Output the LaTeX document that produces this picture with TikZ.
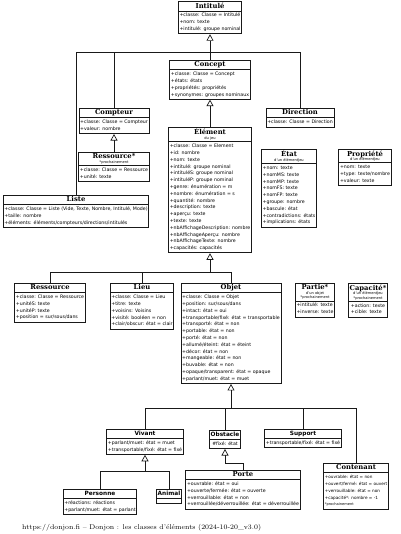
\documentclass[tikz,border=0pt]{standalone}
\usepackage{fontspec}
\usetikzlibrary{shapes.multipart}
\usetikzlibrary{arrows.meta}

\newfontfamily\attrfont{DejaVu Sans}
\newfontfamily\serifttlfont{DejaVu Serif}
\newcommand{\ttlserif}[1]{{\serifttlfont\bfseries\fontsize{6.8}{7}\selectfont\rule[-1.8pt]{0pt}{6.6pt}#1}}
\newcommand{\ttlsans}[1]{{\attrfont\bfseries\fontsize{5.8}{7}\selectfont\rule[-1.8pt]{0pt}{6.6pt}#1}}
\newcommand{\subttl}[1]{{\fontsize{3.6}{4.4}\selectfont #1}}
\newcommand{\attrs}[1]{\begin{tabular}{@{}l@{}}#1\end{tabular}}

\begin{document}
\begin{tikzpicture}[x=1pt,y=-1pt,
    cls/.style={rectangle split, rectangle split parts=2, draw=black!90, line width=0.8pt, fill=white,
      inner xsep=1.2pt, inner ysep=0.8pt, align=center, anchor=north,
      font={\attrfont\fontsize{4.7}{6.8}\selectfont}},
    small cls/.style={cls, font={\attrfont\fontsize{4.2}{6.8}\selectfont}},
    link/.style={draw=black!90, line width=0.7pt},
    inherit/.style={link, -{Triangle[open, length=6.5pt, width=7pt]}}]

\useasboundingbox (0,0) rectangle (400,534);

\node [cls] (intitule) at (210,1) {\ttlserif{Intitulé} \nodepart{second} \attrs{+classe: Classe = Intitulé\\+nom: texte\\+intitulé: groupe nominal}};
\node [cls] (concept) at (210,60) {\ttlserif{Concept} \nodepart{second} \attrs{+classe: Classe = Concept\\+états: états\\+propriétés: propriétés\\+synonymes: groupes nominaux}};
\node [cls] (compteur) at (114,108) {\ttlserif{Compteur} \nodepart{second} \attrs{+classe: Classe = Compteur\\+valeur: nombre}};
\node [cls] (ressourcefut) at (114,152) {\ttlserif{Ressource*}\\[-2pt]\subttl{*prochainement} \nodepart{second} \attrs{+classe: Classe = Ressource\\+unité: texte}};
\node [cls] (liste) at (76,195) {\ttlserif{Liste} \nodepart{second} \attrs{+classe: Classe = Liste (Vide, Texte, Nombre, Intitulé, Mode)\\+taille: nombre\\+éléments: éléments/compteurs/directions/intitulés}};
\node [cls] (direction) at (300,108) {\ttlserif{Direction} \nodepart{second} \attrs{+classe: Classe = Direction}};

\node [cls] (element) at (210,127) {\ttlserif{Élément}\\[-2pt]\subttl{du jeu} \nodepart{second} \attrs{+classe: Classe = Element\\+id: nombre\\+nom: texte\\+intitulé: groupe nominal\\+intituléS: groupe nominal\\+intituléP: groupe nominal\\+genre: énumération = m\\+nombre: énumération = s\\+quantité: nombre\\+description: texte\\+aperçu: texte\\+texte: texte\\+nbAffichageDescription: nombre\\+nbAffichageAperçu: nombre\\+nbAffichageTexte: nombre\\+capacités: capacités}};
\node [cls] (etat) at (289,149) {\ttlserif{État}\\[-2pt]\subttl{d’un élémentJeu} \nodepart{second} \attrs{+nom: texte\\+nomMS: texte\\+nomMP: texte\\+nomFS: texte\\+nomFP: texte\\+groupe: nombre\\+bascule: état\\+contradictions: états\\+implications: états}};
\node [cls] (propriete) at (365,149) {\ttlserif{Propriété}\\[-2pt]\subttl{d’un élémentJeu} \nodepart{second} \attrs{+nom: texte\\+type: texte/nombre\\+valeur: texte}};

\node [cls] (ressource) at (50,283) {\ttlserif{Ressource} \nodepart{second} \attrs{+classe: Classe = Ressource\\+unitéS: texte\\+unitéP: texte\\+position = sur/sous/dans}};
\node [cls] (lieu) at (142,283) {\ttlserif{Lieu} \nodepart{second} \attrs{+classe: Classe = Lieu\\+titre: texte\\+voisins: Voisins\\+visité: booléen = non\\+clair/obscur: état = clair}};
\node [cls] (objet) at (231,283) {\ttlserif{Objet} \nodepart{second} \attrs{+classe: Classe = Objet\\+position: sur/sous/dans\\+intact: état = oui\\+transportable/fixé: état = transportable\\+transporté: état = non\\+portable: état = non\\+porté: état = non\\+allumé/éteint: état = éteint\\+décor: état = non\\+mangeable: état = non\\+buvable: état = non\\+opaque/transparent: état = opaque\\+parlant/muet: état = muet}};
\node [cls] (partie) at (315,283) {\ttlserif{Partie*}\\[-2pt]\subttl{d’un objet}\\[-2.4pt]\subttl{*prochainement} \nodepart{second} \attrs{+intitulé: texte\\+inverse: texte}};
\node [cls] (capacite) at (368,283) {\ttlserif{Capacité*}\\[-2pt]\subttl{d’un élémentJeu}\\[-2.4pt]\subttl{*prochainement} \nodepart{second} \attrs{+action: texte\\+cible: texte}};

\node [cls] (vivant) at (145,429) {\ttlsans{Vivant} \nodepart{second} \attrs{+parlant/muet: état = muet\\+transportable/fixé: état = fixé}};
\node [cls] (obstacle) at (225,430) {\ttlsans{Obstacle} \nodepart{second} \attrs{\#fixé: état}};
\node [cls] (support) at (303,429) {\ttlsans{Support} \nodepart{second} \attrs{+transportable/fixé: état = fixé}};
\node [cls] (porte) at (243,470) {\ttlserif{Porte} \nodepart{second} \attrs{+ouvrable: état = oui\\+ouverte/fermée: état = ouverte\\+verrouillable: état = non\\+verrouillée/déverrouillée: état = déverrouillée}};
\node [small cls] (contenant) at (356,463) {\ttlserif{Contenant} \nodepart{second} \attrs{+ouvrable: état = non\\+ouvert/fermé: état = ouvert\\+verrouillable: état = non\\+capacité*: nombre = -1\\\subttl{*prochainement}}};
\node [cls] (personne) at (100,489) {\ttlsans{Personne} \nodepart{second} \attrs{+réactions: réactions\\+parlant/muet: état = parlant}};
\node [cls] (animal) at (169,489) {\ttlsans{Animal} \nodepart{second} \rule{0pt}{2.4pt}};

\node [anchor=base west, inner sep=0pt, font={\fontsize{6.9}{7}\selectfont}] (footer) at (22,529) {https://donjon.fi – Donjon : les classes d’éléments (2024-10-20\_v3.0)};

% heritage
\coordinate (busI) at (210,52);
\draw [inherit] (busI) -- (intitule.south);
\draw [link] (concept.north) -- (busI);
\draw [link] (liste.north) |- (busI);
\draw [link] (compteur.north) |- (busI);
\draw [link] (direction.north) |- (busI);

\draw [inherit] (ressourcefut.north) -- (compteur.south);
\draw [inherit] (element.north) -- (concept.south);

\coordinate (busE) at (210,272);
\draw [inherit] (busE) -- (element.south);
\draw [link] (ressource.north) |- (busE);
\draw [link] (lieu.north) |- (busE);
\draw [link] (objet.north) |- (busE);

\coordinate (busO) at (231,408);
\draw [inherit] (busO) -- (objet.south);
\draw [link] (vivant.north) |- (busO);
\draw [link] (obstacle.north) |- (busO);
\draw [link] (support.north) |- (busO);
\draw [link] (contenant.north) |- (busO);

\coordinate (busV) at (145,471);
\draw [inherit] (busV) -- (vivant.south);
\draw [link] (personne.north) |- (busV);
\draw [link] (animal.north) |- (busV);

\coordinate (busP) at (225,463);
\draw [inherit] (busP) -- (obstacle.south);
\draw [link] (porte.north) |- (busP);

\end{tikzpicture}
\end{document}
